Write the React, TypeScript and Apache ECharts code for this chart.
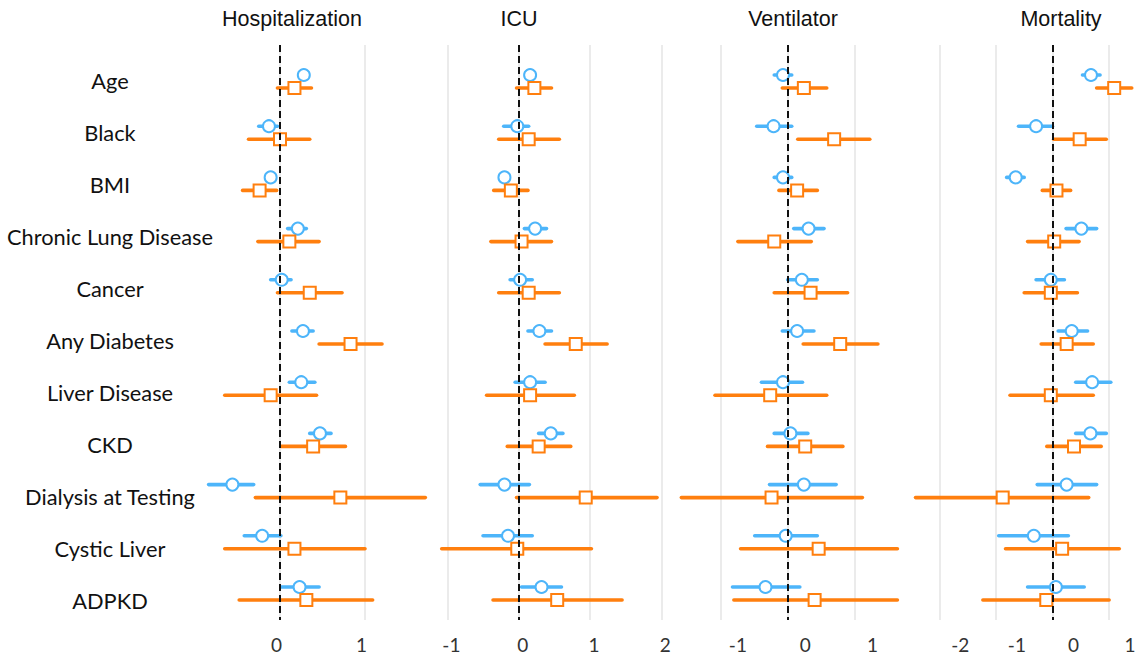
import React, { useEffect, useRef } from "react";
import * as echarts from "echarts";

const categories = [
  "Age",
  "Black",
  "BMI",
  "Chronic Lung Disease",
  "Cancer",
  "Any Diabetes",
  "Liver Disease",
  "CKD",
  "Dialysis at Testing",
  "Cystic Liver",
  "ADPKD",
];

const panelTitles = ["Hospitalization", "ICU", "Ventilator", "Mortality"];

// [estimate, lower, upper]
const hospBlue = [
  [0.28, 0.24, 0.33],
  [-0.13, -0.25, -0.03],
  [-0.11, -0.15, -0.07],
  [0.21, 0.09, 0.31],
  [0.02, -0.11, 0.13],
  [0.27, 0.14, 0.39],
  [0.25, 0.11, 0.41],
  [0.47, 0.35, 0.6],
  [-0.56, -0.84, -0.31],
  [-0.21, -0.42, 0.01],
  [0.23, 0.01, 0.46],
];
const hospOrange = [
  [0.17, -0.03, 0.37],
  [0.0, -0.37, 0.35],
  [-0.24, -0.44, -0.04],
  [0.11, -0.26, 0.46],
  [0.35, -0.03, 0.73],
  [0.83, 0.46, 1.2],
  [-0.11, -0.65, 0.43],
  [0.39, 0.01, 0.77],
  [0.71, -0.29, 1.71],
  [0.17, -0.65, 1.0],
  [0.31, -0.48, 1.09],
];
const icuBlue = [
  [0.16, 0.11, 0.21],
  [-0.02, -0.21, 0.14],
  [-0.2, -0.24, -0.16],
  [0.23, 0.08, 0.39],
  [0.02, -0.12, 0.19],
  [0.29, 0.13, 0.46],
  [0.16, -0.05, 0.37],
  [0.45, 0.28, 0.62],
  [-0.2, -0.54, 0.15],
  [-0.15, -0.5, 0.19],
  [0.32, 0.04, 0.6],
];
const icuOrange = [
  [0.22, -0.03, 0.46],
  [0.14, -0.28, 0.57],
  [-0.11, -0.35, 0.13],
  [0.04, -0.39, 0.46],
  [0.14, -0.28, 0.57],
  [0.8, 0.37, 1.24],
  [0.16, -0.45, 0.78],
  [0.28, -0.16, 0.73],
  [0.94, -0.03, 1.94],
  [-0.02, -1.08, 1.02],
  [0.54, -0.36, 1.45],
];
const ventBlue = [
  [-0.07, -0.2, 0.06],
  [-0.21, -0.46, 0.06],
  [-0.07, -0.2, 0.06],
  [0.31, 0.09, 0.54],
  [0.21, 0.0, 0.44],
  [0.14, -0.08, 0.39],
  [-0.07, -0.39, 0.22],
  [0.04, -0.2, 0.3],
  [0.24, -0.27, 0.72],
  [-0.03, -0.49, 0.44],
  [-0.33, -0.82, 0.18],
];
const ventOrange = [
  [0.24, -0.08, 0.58],
  [0.69, 0.15, 1.22],
  [0.14, -0.13, 0.44],
  [-0.2, -0.74, 0.35],
  [0.34, -0.2, 0.89],
  [0.78, 0.23, 1.34],
  [-0.26, -1.08, 0.58],
  [0.26, -0.3, 0.82],
  [-0.24, -1.58, 1.11],
  [0.46, -0.7, 1.63],
  [0.4, -0.8, 1.63],
];
const mortBlue = [
  [0.68, 0.53, 0.84],
  [-0.29, -0.6, 0.0],
  [-0.65, -0.81, -0.5],
  [0.51, 0.24, 0.78],
  [-0.03, -0.29, 0.21],
  [0.34, 0.1, 0.62],
  [0.7, 0.41, 1.03],
  [0.67, 0.41, 0.95],
  [0.25, -0.27, 0.78],
  [-0.33, -0.95, 0.28],
  [0.06, -0.44, 0.56],
];
const mortOrange = [
  [1.09, 0.78, 1.4],
  [0.48, 0.02, 0.95],
  [0.07, -0.18, 0.32],
  [0.03, -0.44, 0.47],
  [-0.03, -0.5, 0.44],
  [0.25, -0.2, 0.72],
  [-0.03, -0.75, 0.72],
  [0.38, -0.1, 0.86],
  [-0.88, -2.42, 0.64],
  [0.17, -0.83, 1.18],
  [-0.11, -1.23, 1.0],
];

const hospTicks = [0, 1];
const icuTicks = [-1, 0, 1, 2];
const ventTicks = [-1, 0, 1];
const mortTicks = [-2, -1, 0, 1];

const panelBlue = [hospBlue, icuBlue, ventBlue, mortBlue];
const panelOrange = [hospOrange, icuOrange, ventOrange, mortOrange];
const panelTicks = [hospTicks, icuTicks, ventTicks, mortTicks];

// layout (pixels)
const panelLayout = [
  { zero: 280, ppu: 85, min: -0.9, max: 1.8, titleX: 292, labelShift: -3.5 },
  { zero: 518.7, ppu: 71.3, min: -1.15, max: 2.05, titleX: 519, labelShift: 4 },
  { zero: 787.7, ppu: 67.3, min: -1.6, max: 1.67, titleX: 793, labelShift: 17.5 },
  { zero: 1052.5, ppu: 56.6, min: -2.45, max: 1.42, titleX: 1061, labelShift: 21 },
];

const BLUE = "#4DB5FA";
const ORANGE = "#FF7F0E";
const FONT = "Lato, 'Open Sans', sans-serif";
const TITLE_FONT = "'Liberation Sans', Arial, sans-serif";

const GRID_TOP = 45;
const GRID_BOTTOM = 620;
const ROW0 = 81.5;
const ROW_PITCH = 51.2;
const BLUE_OFF = -0.127;
const ORANGE_OFF = 0.127;

function buildOption() {
  const grids: any[] = [];
  const xAxes: any[] = [];
  const yAxes: any[] = [];
  const series: any[] = [];
  const graphics: any[] = [];

  // label grid
  grids.push({ left: 220, top: 54.5, width: 1, height: 572, containLabel: false });
  xAxes.push({ type: "value", gridIndex: 0, show: false, min: 0, max: 1 });
  yAxes.push({
    type: "category",
    gridIndex: 0,
    data: categories,
    inverse: true,
    axisLine: { show: false },
    axisTick: { show: false },
    splitLine: { show: false },
    axisLabel: {
      align: "center",
      margin: 110,
      fontSize: 21.8,
      fontFamily: FONT,
      color: "#111",
    },
  });

  const yMin = (GRID_TOP - ROW0) / ROW_PITCH;
  const yMax = (GRID_BOTTOM - ROW0) / ROW_PITCH;

  panelLayout.forEach((p, i) => {
    const gi = i + 1;
    const left = p.zero + p.min * p.ppu;
    const width = (p.max - p.min) * p.ppu;
    grids.push({ left, top: GRID_TOP, width, height: GRID_BOTTOM - GRID_TOP });
    const shift = p.labelShift;
    xAxes.push({
      type: "value",
      gridIndex: gi,
      min: p.min,
      max: p.max,
      axisLine: { show: false },
      axisTick: { show: false },
      splitLine: { show: false },
      axisLabel: {
        customValues: panelTicks[i],
        fontSize: 19,
        fontFamily: FONT,
        color: "#333",
        margin: 15,
        padding: shift >= 0 ? [0, 0, 0, 2 * shift] : [0, -2 * shift, 0, 0],
      },
    });
    yAxes.push({
      type: "value",
      gridIndex: gi,
      inverse: true,
      min: yMin,
      max: yMax,
      show: false,
    });

    const blue = panelBlue[i];
    const orange = panelOrange[i];
    const barSeries = (rows: number[][], off: number, color: string, extra: any) => ({
      type: "custom",
      xAxisIndex: gi,
      yAxisIndex: gi,
      z: 2,
      silent: true,
      data: rows.map((r, k) => [r[1], r[2], k + off]),
      encode: { x: [0, 1], y: 2 },
      renderItem: (params: any, api: any) => {
        const a = api.coord([api.value(0), api.value(2)]);
        const b = api.coord([api.value(1), api.value(2)]);
        return {
          type: "line",
          shape: { x1: a[0], y1: a[1], x2: b[0], y2: b[1] },
          style: { stroke: color, lineWidth: 3.6, lineCap: "round" },
        };
      },
      ...extra,
    });

    series.push(
      barSeries(blue, BLUE_OFF, BLUE, {
        markLine: {
          silent: true,
          symbol: "none",
          z: 0,
          label: { show: false },
          lineStyle: { color: "#e4e4e4", width: 1.5, type: "solid" },
          data: panelTicks[i].map((t) => ({ xAxis: t })),
        },
      })
    );
    series.push(barSeries(orange, ORANGE_OFF, ORANGE, {}));
    series.push({
      type: "scatter",
      xAxisIndex: gi,
      yAxisIndex: gi,
      z: 3,
      silent: true,
      symbol: "circle",
      symbolSize: 12,
      itemStyle: { color: "#fff", borderColor: BLUE, borderWidth: 2, opacity: 1 },
      data: blue.map((r, k) => [r[0], k + BLUE_OFF]),
    });
    series.push({
      type: "scatter",
      xAxisIndex: gi,
      yAxisIndex: gi,
      z: 3,
      silent: true,
      symbol: "rect",
      symbolSize: 12,
      itemStyle: { color: "#fff", borderColor: ORANGE, borderWidth: 2, opacity: 1 },
      data: orange.map((r, k) => [r[0], k + ORANGE_OFF]),
      markLine: {
        silent: true,
        symbol: "none",
        z: 10,
        label: { show: false },
        lineStyle: { color: "#111", width: 2, type: [7, 4] },
        data: [{ xAxis: 0 }],
      },
    });

    graphics.push({
      type: "text",
      x: p.titleX,
      y: 19,
      silent: true,
      style: {
        text: panelTitles[i],
        align: "center",
        verticalAlign: "middle",
        textAlign: "center",
        textVerticalAlign: "middle",
        fontSize: 21.5,
        fontFamily: TITLE_FONT,
        fill: "#111",
      },
    });
  });

  return {
    animation: false,
    backgroundColor: "#fff",
    grid: grids,
    xAxis: xAxes,
    yAxis: yAxes,
    series,
    graphic: graphics,
  };
}

export default function App() {
  const ref = useRef<HTMLDivElement>(null);
  useEffect(() => {
    if (!ref.current) return;
    const chart = echarts.init(ref.current, undefined, { renderer: "svg" });
    chart.setOption(buildOption() as any);
    return () => chart.dispose();
  }, []);
  return (
    <div
      ref={ref}
      style={{ position: "absolute", left: 0, top: 0, width: 1141, height: 658 }}
    />
  );
}
